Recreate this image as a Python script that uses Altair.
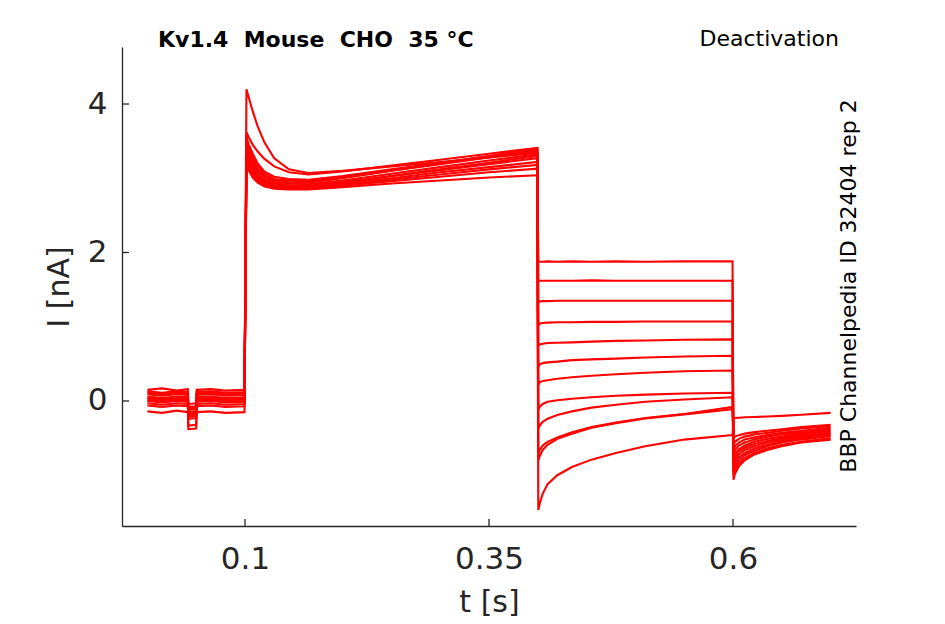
import altair as alt
import pandas as pd

# ---- time bases of the four protocol segments (s) ----
T_BASE = [0.0, 0.015, 0.03, 0.0415, 0.042, 0.05, 0.0505, 0.065, 0.08, 0.0995]
T_ACT = [0.1015, 0.104, 0.108, 0.113, 0.12, 0.13, 0.145, 0.165, 0.2, 0.25, 0.3, 0.35, 0.3995]
T_DEACT = [0.4005, 0.402, 0.405, 0.41, 0.42, 0.435, 0.455, 0.48, 0.51, 0.55, 0.5995]
T_TAIL = [0.6005, 0.602, 0.606, 0.612, 0.622, 0.635, 0.65, 0.67, 0.7]

# ---- currents (nA), one row per sweep ----
I_BASE = [
    [0.03, 0.01, 0.03, 0.02, -0.18, -0.17, 0.02, 0.03, 0.01, 0.02],
    [0.11, 0.09, 0.11, 0.10, -0.10, -0.09, 0.10, 0.11, 0.09, 0.10],
    [-0.03, -0.05, -0.03, -0.04, -0.24, -0.23, -0.04, -0.03, -0.05, -0.04],
    [0.06, 0.04, 0.06, 0.05, -0.15, -0.14, 0.05, 0.06, 0.04, 0.05],
    [0.15, 0.17, 0.14, 0.16, -0.04, -0.03, 0.15, 0.16, 0.14, 0.15],
    [0.00, -0.02, 0.00, -0.01, -0.21, -0.20, -0.01, 0.00, -0.02, -0.01],
    [0.09, 0.07, 0.09, 0.08, -0.12, -0.11, 0.08, 0.09, 0.07, 0.08],
    [-0.14, -0.16, -0.13, -0.15, -0.38, -0.37, -0.15, -0.14, -0.16, -0.15],
    [0.01, -0.01, 0.01, 0.00, -0.20, -0.19, 0.00, 0.01, -0.01, 0.00],
    [0.13, 0.11, 0.13, 0.12, -0.08, -0.07, 0.12, 0.13, 0.11, 0.12],
    [-0.06, -0.08, -0.06, -0.07, -0.33, -0.32, -0.07, -0.06, -0.08, -0.07],
    [0.04, 0.02, 0.04, 0.03, -0.17, -0.16, 0.03, 0.04, 0.02, 0.03],
]
I_ACT = [
    [4.20, 4.08, 3.90, 3.70, 3.48, 3.27, 3.12, 3.07, 3.10, 3.16, 3.22, 3.28, 3.34],
    [3.62, 3.55, 3.45, 3.36, 3.26, 3.16, 3.08, 3.05, 3.09, 3.17, 3.25, 3.33, 3.41],
    [3.55, 3.45, 3.33, 3.20, 3.09, 3.02, 2.99, 2.98, 3.03, 3.12, 3.21, 3.30, 3.38],
    [3.50, 3.40, 3.28, 3.16, 3.06, 2.99, 2.97, 2.96, 3.01, 3.10, 3.19, 3.28, 3.36],
    [3.46, 3.36, 3.24, 3.12, 3.03, 2.97, 2.95, 2.94, 3.00, 3.10, 3.20, 3.30, 3.40],
    [3.42, 3.32, 3.20, 3.09, 3.00, 2.95, 2.93, 2.92, 2.97, 3.06, 3.15, 3.24, 3.32],
    [3.38, 3.28, 3.16, 3.05, 2.97, 2.93, 2.91, 2.90, 2.95, 3.03, 3.11, 3.19, 3.27],
    [3.34, 3.24, 3.13, 3.03, 2.95, 2.91, 2.90, 2.89, 2.93, 3.00, 3.08, 3.15, 3.22],
    [3.30, 3.21, 3.10, 3.01, 2.94, 2.90, 2.89, 2.88, 2.94, 3.03, 3.12, 3.21, 3.30],
    [3.26, 3.17, 3.07, 2.98, 2.92, 2.89, 2.88, 2.87, 2.91, 2.98, 3.05, 3.12, 3.18],
    [3.22, 3.14, 3.04, 2.96, 2.91, 2.88, 2.87, 2.86, 2.90, 2.96, 3.02, 3.08, 3.13],
    [3.18, 3.10, 3.01, 2.94, 2.89, 2.86, 2.85, 2.85, 2.88, 2.93, 2.97, 3.01, 3.04],
]
I_DEACT = [
    [1.87, 1.875, 1.875, 1.88, 1.875, 1.88, 1.875, 1.88, 1.875, 1.88, 1.88],
    [1.61, 1.62, 1.62, 1.62, 1.62, 1.62, 1.625, 1.62, 1.62, 1.62, 1.62],
    [1.33, 1.34, 1.345, 1.345, 1.35, 1.35, 1.35, 1.35, 1.35, 1.35, 1.35],
    [1.02, 1.04, 1.05, 1.055, 1.06, 1.06, 1.065, 1.065, 1.07, 1.07, 1.07],
    [0.74, 0.76, 0.77, 0.78, 0.785, 0.79, 0.80, 0.81, 0.815, 0.825, 0.83],
    [0.46, 0.49, 0.51, 0.52, 0.53, 0.55, 0.56, 0.57, 0.585, 0.60, 0.61],
    [0.22, 0.25, 0.27, 0.28, 0.30, 0.32, 0.34, 0.36, 0.38, 0.40, 0.41],
    [-0.12, -0.08, -0.04, -0.01, 0.01, 0.03, 0.05, 0.07, 0.085, 0.10, 0.11],
    [-0.38, -0.33, -0.28, -0.24, -0.19, -0.14, -0.09, -0.05, -0.01, 0.02, 0.05],
    [-0.70, -0.66, -0.60, -0.55, -0.49, -0.42, -0.35, -0.29, -0.23, -0.175, -0.08],
    [-0.80, -0.74, -0.66, -0.59, -0.51, -0.44, -0.36, -0.30, -0.235, -0.18, -0.11],
    [-1.47, -1.38, -1.25, -1.12, -1.00, -0.89, -0.79, -0.70, -0.61, -0.52, -0.46],
]
I_TAIL = [
    [-1.06, -0.98, -0.88, -0.80, -0.72, -0.66, -0.61, -0.56, -0.52],
    [-1.00, -0.93, -0.84, -0.77, -0.70, -0.64, -0.59, -0.55, -0.50],
    [-0.95, -0.88, -0.80, -0.73, -0.67, -0.61, -0.56, -0.52, -0.47],
    [-0.90, -0.83, -0.76, -0.70, -0.64, -0.59, -0.54, -0.50, -0.45],
    [-0.86, -0.79, -0.72, -0.66, -0.61, -0.56, -0.52, -0.48, -0.44],
    [-0.82, -0.75, -0.68, -0.63, -0.58, -0.54, -0.50, -0.46, -0.42],
    [-0.78, -0.71, -0.65, -0.60, -0.55, -0.51, -0.48, -0.44, -0.40],
    [-0.72, -0.66, -0.60, -0.56, -0.52, -0.48, -0.45, -0.42, -0.38],
    [-0.66, -0.61, -0.56, -0.52, -0.49, -0.46, -0.43, -0.40, -0.36],
    [-0.58, -0.55, -0.51, -0.48, -0.45, -0.43, -0.40, -0.37, -0.34],
    [-0.50, -0.48, -0.46, -0.44, -0.42, -0.40, -0.38, -0.35, -0.32],
    [-0.23, -0.23, -0.225, -0.22, -0.215, -0.21, -0.20, -0.185, -0.16],
]

X_TICKS = [0.1, 0.35, 0.6]
Y_TICKS = [0, 2, 4]
TITLE = "Kv1.4\u00a0\u00a0Mouse\u00a0\u00a0CHO\u00a0\u00a035\u00a0°C"
PROTOCOL = "Deactivation"
SOURCE = "BBP Channelpedia ID 32404 rep 2"

# ---- build long table ----
rows = []
times = T_BASE + T_ACT + T_DEACT + T_TAIL
for k in range(len(I_BASE)):
    vals = I_BASE[k] + I_ACT[k] + I_DEACT[k] + I_TAIL[k]
    for j, (t, v) in enumerate(zip(times, vals)):
        rows.append({"sweep": k, "idx": j, "t": t, "I": v})
df = pd.DataFrame(rows)

W, H = 734, 479
AX = "#262626"
FONT = "DejaVu Sans"

xscale = alt.Scale(domain=[-0.026, 0.726], nice=False, zero=False)
yscale = alt.Scale(domain=[-1.684, 4.768], nice=False, zero=False)
xaxis = alt.Axis(values=X_TICKS, format=".2~f", title="t [s]", ticks=False,
                 labelPadding=18, titlePadding=13, grid=False)
yaxis = alt.Axis(values=Y_TICKS, format="d", title="I [nA]", ticks=False,
                 labelPadding=15, titlePadding=13, grid=False)

lines = alt.Chart(df).mark_line(color="#ff0000", strokeWidth=2.1, clip=True).encode(
    x=alt.X("t:Q", scale=xscale, axis=xaxis),
    y=alt.Y("I:Q", scale=yscale, axis=yaxis),
    detail="sweep:N",
    order="idx:Q",
)

xt = alt.Chart(pd.DataFrame({"t": X_TICKS})).mark_rule(color=AX, strokeWidth=1.3).encode(
    x=alt.X("t:Q", scale=xscale, axis=xaxis),
    y=alt.value(H),
    y2=alt.value(H - 7),
)
yt = alt.Chart(pd.DataFrame({"I": Y_TICKS})).mark_rule(color=AX, strokeWidth=1.3).encode(
    y=alt.Y("I:Q", scale=yscale, axis=yaxis),
    x=alt.value(0),
    x2=alt.value(7),
)

title = alt.Chart(pd.DataFrame({"s": [TITLE]})).mark_text(
    font=FONT, fontSize=22, fontWeight="bold", color="#000000",
    align="left", baseline="alphabetic").encode(
    x=alt.value(36), y=alt.value(0), text="s:N")
proto = alt.Chart(pd.DataFrame({"s": [PROTOCOL]})).mark_text(
    font=FONT, fontSize=22, color="#000000",
    align="right", baseline="alphabetic").encode(
    x=alt.value(717), y=alt.value(-1), text="s:N")
source = alt.Chart(pd.DataFrame({"s": [SOURCE]})).mark_text(
    font=FONT, fontSize=22, color="#000000", angle=270,
    align="center", baseline="middle").encode(
    x=alt.value(727), y=alt.value(239), text="s:N")

chart = alt.layer(lines, xt, yt, title, proto, source).properties(
    width=W, height=H,
    autosize=alt.AutoSizeParams(type="none"),
    padding={"left": 114, "top": 39, "right": 81, "bottom": 97},
    background="white",
).configure_view(stroke=None).configure_axis(
    domainColor=AX, domainWidth=1.3,
    labelFont=FONT, labelFontSize=31, labelColor=AX,
    titleFont=FONT, titleFontSize=30, titleColor=AX, titleFontWeight="normal",
)

chart.save("out.html", embed_options={"renderer": "svg", "actions": False})
